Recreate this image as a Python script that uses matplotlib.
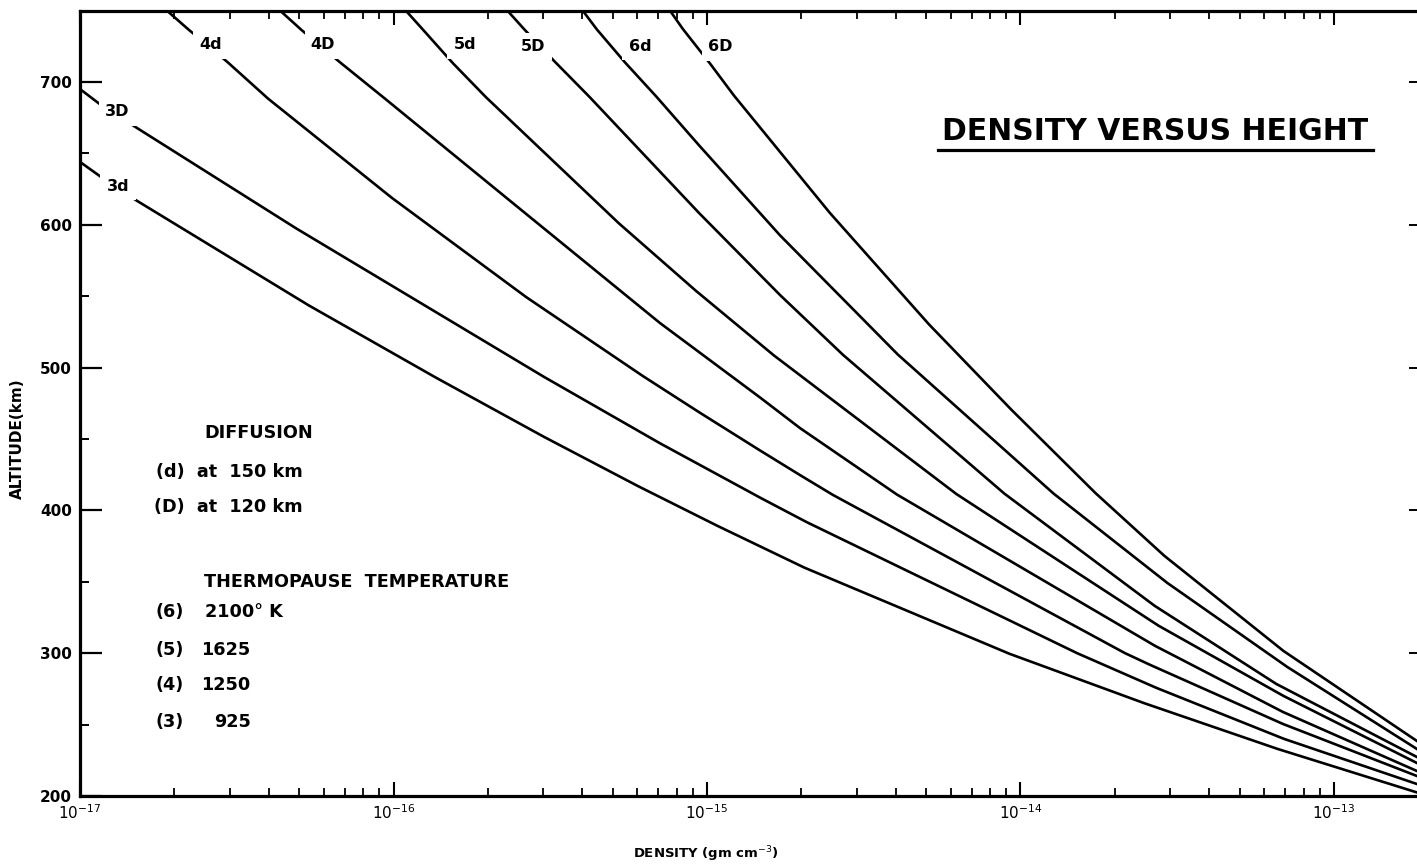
import matplotlib.pyplot as plt
from matplotlib.ticker import LogLocator, MultipleLocator, NullFormatter, LogFormatterMathtext

# log10 density (gm cm^-3) and altitude (km), one pair per curve
logrho_3d = [-17.00, -16.93, -16.82, -16.27, -15.865, -15.52, -15.22, -14.965, -14.69, -14.035, -13.605, -13.18, -12.735]
alt_3d = [644, 633, 617, 543.5, 493, 451.5, 417, 389, 360, 299.6, 265, 233, 202.5]

logrho_3D = [-17.00, -16.94, -16.82, -16.31, -15.52, -15.15, -14.826, -14.682, -13.819, -13.566, -13.159, -12.735]
alt_3D = [695, 685, 668, 597.4, 493.5, 447, 408.4, 391.8, 300, 275.7, 240, 208.4]

logrho_4d = [-16.72, -16.655, -16.53, -16.40, -16.005, -15.577, -15.204, -15.022, -14.831, -14.703, -14.598,
             -13.667, -13.587, -13.163, -12.735]
alt_4d = [749.4, 736.9, 714, 688.3, 618.8, 549.4, 494, 468.3, 442, 424.7, 410.8, 300.1, 291.9, 250.5, 214]

logrho_4D = [-16.362, -16.292, -16.171, -16.030, -15.577, -15.150, -15.022, -14.831, -14.703, -14.394, -13.571,
             -13.163, -12.735]
alt_4D = [750, 736.1, 713.8, 688.8, 607.6, 531.2, 510.3, 479.1, 457.6, 411.1, 305.2, 258.9, 217.5]

logrho_5d = [-15.963, -15.906, -15.810, -15.705, -15.281, -15.035, -14.787, -14.204, -13.559, -13.161, -12.735]
alt_5d = [750.5, 736.6, 713.0, 689.3, 601.0, 553.7, 508.6, 411.4, 319.2, 270.1, 223.1]

logrho_5D = [-15.638, -15.581, -15.485, -15.376, -15.026, -14.766, -14.566, -14.051, -13.572, -13.184, -12.735]
alt_5D = [750.3, 736.4, 714.1, 689.8, 608.4, 550.6, 508.9, 411.7, 333.2, 278.5, 227.3]

logrho_6d = [-15.399, -15.351, -15.262, -15.163, -15.024, -14.767, -14.391, -13.895, -13.532, -13.149, -12.735]
alt_6d = [750.7, 736.7, 713.8, 690.1, 655.3, 592.6, 509.1, 411.9, 349.3, 290.4, 232.9]

logrho_6D = [-15.124, -15.077, -14.990, -14.914, -14.608, -14.292, -14.029, -13.760, -13.541, -13.161, -12.735]
alt_6D = [751.8, 737.1, 712.8, 690.5, 608.3, 530.3, 470.5, 412.0, 368.2, 301.6, 238.5]

curves = [
    ('3d', logrho_3d, alt_3d),
    ('3D', logrho_3D, alt_3D),
    ('4d', logrho_4d, alt_4d),
    ('4D', logrho_4D, alt_4D),
    ('5d', logrho_5d, alt_5d),
    ('5D', logrho_5D, alt_5D),
    ('6d', logrho_6d, alt_6d),
    ('6D', logrho_6D, alt_6D),
]

# where each curve name sits on its curve (log density, altitude)
label_pos = {
    '3d': (-16.879, 627), '3D': (-16.882, 679),
    '4d': (-16.585, 726), '4D': (-16.225, 726),
    '5d': (-15.772, 726), '5D': (-15.555, 725),
    '6d': (-15.214, 725), '6D': (-14.958, 724.5),
}

x_decades = [1e-17, 1e-16, 1e-15, 1e-14, 1e-13]

temp_keys = ['(6)', '(5)', '(4)', '(3)']
temp_vals = ['2100° K', '1625', '1250', '925']

plt.rcParams['font.family'] = ['DejaVu Sans']

fig = plt.figure(figsize=(14.17, 8.66), dpi=100)
ax = fig.add_axes([0.0565, 0.0808, 0.9435, 0.907])

for name, lr, alt in curves:
    ax.plot([10 ** v for v in lr], alt, color='black', linewidth=1.9, solid_joinstyle='round', zorder=2)
    lx, ly = label_pos[name]
    ax.text(10 ** lx, ly, name, fontsize=11.5, fontweight='bold', ha='center', va='center', zorder=3,
            bbox=dict(facecolor='white', edgecolor='none', pad=4.5))

ax.set_xscale('log')
ax.set_xticks(x_decades)
ax.xaxis.set_major_formatter(LogFormatterMathtext())
ax.xaxis.set_minor_locator(LogLocator(base=10, subs=range(2, 10), numticks=20))
ax.xaxis.set_minor_formatter(NullFormatter())
ax.set_xlim(1e-17, 10 ** -12.735)
ax.set_ylim(200, 750)
ax.set_yticks(range(200, 701, 100))
ax.yaxis.set_minor_locator(MultipleLocator(50))

ax.tick_params(axis='x', which='major', direction='in', top=True, length=10, width=1.5, labelsize=11, pad=5)
ax.tick_params(axis='x', which='minor', direction='in', top=True, length=5.5, width=1.3)
ax.tick_params(axis='y', which='major', direction='in', length=16, width=1.6, labelsize=11, pad=6)
ax.tick_params(axis='y', which='minor', direction='in', length=6.5, width=1.4)
for lab in ax.get_yticklabels():
    lab.set_fontweight('bold')

# short ticks on the right edge
ax2 = ax.twinx()
ax2.set_ylim(200, 750)
ax2.set_yticks(range(300, 701, 100))
ax2.tick_params(axis='y', direction='in', length=6, width=1.4, labelright=False)
for s in ax2.spines.values():
    s.set_visible(False)

for side in ['left', 'bottom', 'top']:
    ax.spines[side].set_linewidth(2.3)
ax.spines['right'].set_visible(False)

ax.set_xlabel('DENSITY (gm cm$^{-3}$)', fontsize=9.5, fontweight='bold')
ax.xaxis.set_label_coords(0.468, -0.061)
ax.set_ylabel('ALTITUDE(km)', fontsize=11, fontweight='bold')
ax.yaxis.set_label_coords(-0.041, 0.455)

# key text in the lower left
tkw = dict(transform=ax.transAxes, fontsize=12.7, fontweight='bold', va='center')
ax.text(0.0927, 0.462, 'DIFFUSION', **tkw)
ax.text(0.0568, 0.4125, '(d)  at  150 km', **tkw)
ax.text(0.0553, 0.368, '(D)  at  120 km', **tkw)
ax.text(0.0927, 0.2725, 'THERMOPAUSE  TEMPERATURE', **tkw)
rows_y = [0.2343, 0.1859, 0.1413, 0.0942]
for k, v, yy in zip(temp_keys, temp_vals, rows_y):
    ax.text(0.0568, yy, k, **tkw)
    if v.endswith('K'):
        ax.text(0.0935, yy, v, ha='left', **tkw)
    else:
        ax.text(0.1275, yy, v, ha='right', **tkw)

# title with underline
ax.text(0.804, 0.8454, 'DENSITY VERSUS HEIGHT', transform=ax.transAxes, fontsize=21.5,
        fontweight='bold', ha='center', va='center')
ax.plot([0.6417, 0.9671], [0.8225, 0.8225], transform=ax.transAxes, color='black',
        linewidth=2.3, clip_on=False)

fig.savefig('out.png', dpi=100)
